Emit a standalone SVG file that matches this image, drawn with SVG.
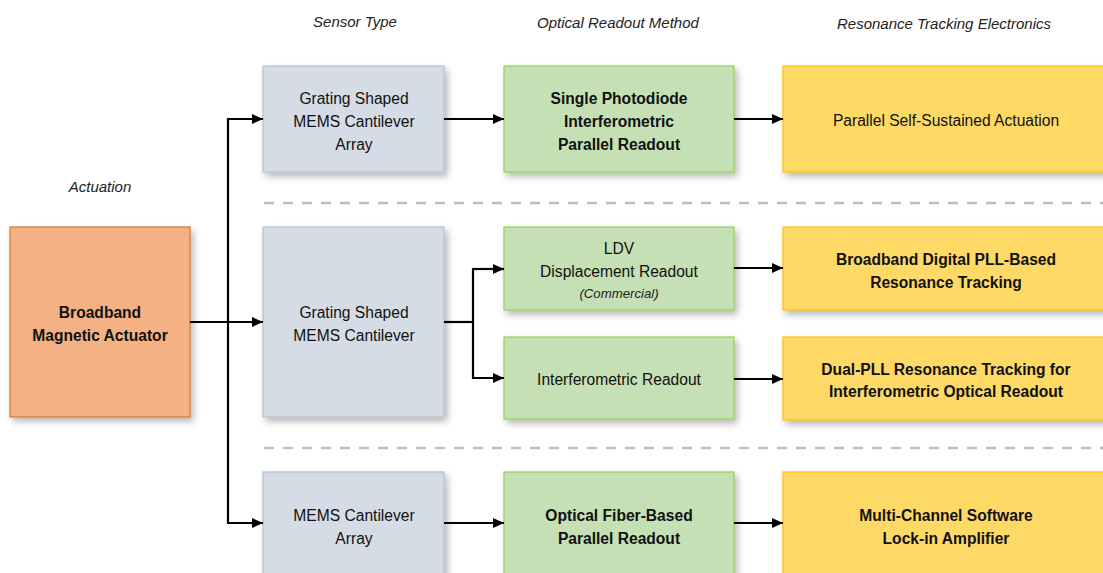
<svg xmlns="http://www.w3.org/2000/svg" width="1103" height="573" viewBox="0 0 1103 573">
<style>
text{font-family:"Liberation Sans",Arial,sans-serif;font-size:15.6px;fill:#111;text-anchor:middle;dominant-baseline:central}
.b{font-weight:bold}
.h{font-style:italic;font-size:15px;fill:#222}
.s{font-style:italic;font-size:13.2px;fill:#222}
.act{fill:#F4B183;stroke:#D2782E;stroke-width:1.2}
.sen{fill:#D6DCE5;stroke:#B4C0D0;stroke-width:1.2}
.opt{fill:#C5E0B4;stroke:#92D050;stroke-width:1.2}
.ele{fill:#FFD966;stroke:#FFC000;stroke-width:1.2}
.c{fill:none;stroke:#000;stroke-width:2.2}
.d{stroke:#BFBFBF;stroke-width:2.5;stroke-dasharray:10 9}
</style>
<defs>
<filter id="sh" x="-10%" y="-10%" width="130%" height="130%">
<feDropShadow dx="3" dy="4" stdDeviation="3.5" flood-color="#000" flood-opacity="0.28"/>
</filter>
<marker id="ar" viewBox="0 0 11 11" refX="11" refY="5.5" markerWidth="11" markerHeight="11" markerUnits="userSpaceOnUse" orient="auto">
<path d="M0,0.5 L11,5.5 L0,10.5 Z" fill="#000"/>
</marker>
</defs>
<rect width="1103" height="573" fill="#fff"/>
<g id="headers">
<text class="h" x="100" y="186">Actuation</text>
<text class="h" x="355" y="21">Sensor Type</text>
<text class="h" x="618" y="22">Optical Readout Method</text>
<text class="h" x="944" y="23">Resonance Tracking Electronics</text>
</g>
<g id="separators">
<line class="d" x1="264" y1="203" x2="1103" y2="203"/>
<line class="d" x1="264" y1="448" x2="1103" y2="448"/>
</g>
<g id="actuator">
<rect class="act" x="10" y="227" width="180" height="190" filter="url(#sh)"/>
<text class="b" x="100" y="312">Broadband</text>
<text class="b" x="100" y="335">Magnetic Actuator</text>
</g>
<g id="sensor1">
<rect class="sen" x="263" y="66" width="181" height="106" filter="url(#sh)"/>
<text x="354" y="98">Grating Shaped</text>
<text x="354" y="121">MEMS Cantilever</text>
<text x="354" y="144">Array</text>
</g>
<g id="sensor2">
<rect class="sen" x="263" y="227" width="181" height="190" filter="url(#sh)"/>
<text x="354" y="312">Grating Shaped</text>
<text x="354" y="335">MEMS Cantilever</text>
</g>
<g id="sensor3">
<rect class="sen" x="263" y="472" width="181" height="120" filter="url(#sh)"/>
<text x="354" y="515">MEMS Cantilever</text>
<text x="354" y="538">Array</text>
</g>
<g id="readout1">
<rect class="opt" x="504" y="66" width="230" height="106" filter="url(#sh)"/>
<text class="b" x="619" y="98">Single Photodiode</text>
<text class="b" x="619" y="121">Interferometric</text>
<text class="b" x="619" y="144">Parallel Readout</text>
</g>
<g id="readout2">
<rect class="opt" x="504" y="227" width="230" height="83" filter="url(#sh)"/>
<text x="619" y="248">LDV</text>
<text x="619" y="271">Displacement Readout</text>
<text class="s" x="619" y="293">(Commercial)</text>
</g>
<g id="readout3">
<rect class="opt" x="504" y="337" width="230" height="82" filter="url(#sh)"/>
<text x="619" y="379">Interferometric Readout</text>
</g>
<g id="readout4">
<rect class="opt" x="504" y="472" width="230" height="120" filter="url(#sh)"/>
<text class="b" x="619" y="515">Optical Fiber-Based</text>
<text class="b" x="619" y="538">Parallel Readout</text>
</g>
<g id="electronics1">
<rect class="ele" x="783" y="66" width="330" height="106" filter="url(#sh)"/>
<text x="946" y="120">Parallel Self-Sustained Actuation</text>
</g>
<g id="electronics2">
<rect class="ele" x="783" y="227" width="330" height="83" filter="url(#sh)"/>
<text class="b" x="946" y="259">Broadband Digital PLL-Based</text>
<text class="b" x="946" y="282">Resonance Tracking</text>
</g>
<g id="electronics3">
<rect class="ele" x="783" y="337" width="330" height="83" filter="url(#sh)"/>
<text class="b" x="946" y="369">Dual-PLL Resonance Tracking for</text>
<text class="b" x="946" y="391">Interferometric Optical Readout</text>
</g>
<g id="electronics4">
<rect class="ele" x="783" y="472" width="330" height="120" filter="url(#sh)"/>
<text class="b" x="946" y="515">Multi-Channel Software</text>
<text class="b" x="946" y="538">Lock-in Amplifier</text>
</g>
<g id="connectors">
<path class="c" d="M190,322 H263" marker-end="url(#ar)"/>
<path class="c" d="M263,119 H228 V523 H263" marker-end="url(#ar)"/>
<path class="c" d="M228,119 H263" marker-end="url(#ar)"/>
<path class="c" d="M444,119 H504" marker-end="url(#ar)"/>
<path class="c" d="M734,119 H783" marker-end="url(#ar)"/>
<path class="c" d="M444,322 H473"/>
<path class="c" d="M504,269 H473 V378 H504" marker-end="url(#ar)"/>
<path class="c" d="M473,269 H504" marker-end="url(#ar)"/>
<path class="c" d="M734,268 H783" marker-end="url(#ar)"/>
<path class="c" d="M734,379 H783" marker-end="url(#ar)"/>
<path class="c" d="M444,523 H504" marker-end="url(#ar)"/>
<path class="c" d="M734,523 H783" marker-end="url(#ar)"/>
</g>
</svg>
